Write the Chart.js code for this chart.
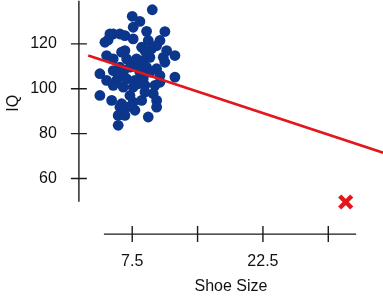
<!DOCTYPE html>
<html>
<head>
<meta charset="utf-8">
<script src="https://cdn.jsdelivr.net/npm/chart.js@4.4.1/dist/chart.umd.min.js"></script>
<style>
  html, body { margin: 0; padding: 0; background: #fff; }
  #wrap { width: 383px; height: 300px; }
</style>
</head>
<body>
<div id="wrap"><canvas id="chart"></canvas></div>
<script>
// Shoe size vs IQ
const shoeSize = [
    9.80, 7.50, 8.38, 7.61, 9.15, 11.25, 5.32, 6.09, 4.74, 6.66,
    7.61, 9.34, 10.68, 4.37, 10.30, 9.73, 8.96, 8.58, 6.66, 6.28,
    11.45, 12.40, 4.56, 5.32, 6.86, 7.61, 9.53, 8.76, 11.25, 6.09,
    7.24, 8.19, 9.15, 3.79, 5.32, 6.47, 10.30, 9.53, 12.40, 4.56,
    5.71, 6.86, 7.81, 8.76, 5.32, 6.47, 7.61, 8.96, 10.11, 10.68,
    3.79, 7.24, 9.91, 5.14, 6.28, 7.61, 8.58, 10.30, 6.09, 6.86,
    10.30, 5.89, 6.66, 7.81, 9.34, 5.89, 4.94, 5.89, 8.38, 8.00,
    8.19, 11.06, 10.68, 8.96
];
const iq = [
    135.2, 132.3, 130.0, 127.4, 125.6, 125.5, 124.4, 124.4, 121.8, 123.7,
    122.2, 121.5, 121.5, 120.7, 119.2, 117.8, 117.0, 118.5, 117.0, 116.3,
    117.0, 114.8, 114.8, 113.3, 113.3, 111.8, 114.0, 112.6, 111.8, 109.6,
    109.6, 110.4, 109.6, 106.7, 108.1, 107.4, 108.9, 107.4, 105.2, 103.7,
    103.7, 104.4, 103.7, 104.4, 101.5, 100.7, 100.7, 101.5, 101.5, 102.9,
    97.0, 97.0, 97.8, 94.8, 93.3, 94.0, 94.8, 94.8, 91.8, 91.8,
    91.8, 88.1, 88.1, 90.4, 87.4, 83.7, 124.4, 105.2, 107.4, 113.3,
    102.2, 114.0, 105.9, 98.5
];

// the outlier and the fitted line
const outlierX = [32.0];
const outlierY = [49.5];
const fitX = [2.45, 36.3];
const fitY = [114.8, 71.5];

const xTicks = [7.5, 15, 22.5, 30];
const xLabels = ['7.5', '', '22.5', ''];
const yTicks = [60, 80, 100, 120];

// R-style detached axes
const xAxisSpan = [4.25, 33.2];
const yAxisSpan = [49.6, 139.2];

const toPoints = (xs, ys) => xs.map((x, i) => ({ x: x, y: ys[i] }));

const rAxes = {
    id: 'rAxes',
    afterDraw(chart) {
        const { ctx, chartArea, scales } = chart;
        const x = scales.x, y = scales.y;
        const ax = chartArea.left;
        const ay = chartArea.bottom + 28.5;
        ctx.save();
        ctx.strokeStyle = '#1a1a1a';
        ctx.lineWidth = 1.4;
        ctx.beginPath();
        // y axis
        ctx.moveTo(ax, y.getPixelForValue(yAxisSpan[0]));
        ctx.lineTo(ax, y.getPixelForValue(yAxisSpan[1]));
        yTicks.forEach(v => {
            const p = y.getPixelForValue(v);
            ctx.moveTo(ax - 8, p);
            ctx.lineTo(ax + 8, p);
        });
        // x axis
        ctx.moveTo(x.getPixelForValue(xAxisSpan[0]), ay);
        ctx.lineTo(x.getPixelForValue(xAxisSpan[1]), ay);
        xTicks.forEach(v => {
            const p = x.getPixelForValue(v);
            ctx.moveTo(p, ay - 8);
            ctx.lineTo(p, ay + 8);
        });
        ctx.stroke();
        ctx.restore();
    }
};

const font = { family: '"Liberation Sans", Arial, sans-serif', size: 16 };

// invisible tick marks only used as spacing between axis and labels
const spacer = len => ({
    display: true,
    drawOnChartArea: false,
    drawTicks: true,
    tickLength: len,
    color: 'rgba(0,0,0,0)'
});

new Chart(document.getElementById('chart'), {
    type: 'scatter',
    data: {
        datasets: [
            {
                type: 'line',
                data: toPoints(fitX, fitY),
                borderColor: '#e3161c',
                borderWidth: 2.6,
                pointRadius: 0,
                fill: false
            },
            {
                data: toPoints(outlierX, outlierY),
                pointStyle: 'crossRot',
                pointRadius: 8.5,
                borderColor: '#e3161c',
                pointBorderWidth: 4.5,
                clip: false
            },
            {
                data: toPoints(shoeSize, iq),
                backgroundColor: '#0b368b',
                borderColor: '#0b368b',
                pointRadius: 5.4,
                pointBorderWidth: 0,
                clip: false
            }
        ]
    },
    options: {
        responsive: true,
        maintainAspectRatio: false,
        animation: false,
        layout: { padding: 0, autoPadding: false },
        plugins: {
            legend: { display: false },
            tooltip: { enabled: false }
        },
        scales: {
            x: {
                type: 'linear',
                min: 1.38,
                max: 36.28,
                afterBuildTicks: s => { s.ticks = xTicks.map(v => ({ value: v })); },
                grid: spacer(46),
                border: { display: false },
                ticks: {
                    autoSkip: false,
                    maxRotation: 0,
                    padding: 0,
                    color: '#111',
                    font: font,
                    callback: (v, i) => xLabels[i]
                },
                title: {
                    display: true,
                    text: 'Shoe Size',
                    color: '#111',
                    font: font,
                    padding: { top: 6, bottom: 4 }
                }
            },
            y: {
                type: 'linear',
                min: 47.9,
                max: 139.2,
                afterBuildTicks: s => { s.ticks = yTicks.map(v => ({ value: v })); },
                grid: spacer(22),
                border: { display: false },
                ticks: {
                    padding: 0,
                    color: '#111',
                    font: Object.assign({}, font, { lineHeight: 0.1 })
                },
                title: {
                    display: true,
                    text: 'IQ',
                    color: '#111',
                    font: font,
                    padding: { top: 4, bottom: 7 }
                }
            }
        }
    },
    plugins: [rAxes]
});
</script>
</body>
</html>
